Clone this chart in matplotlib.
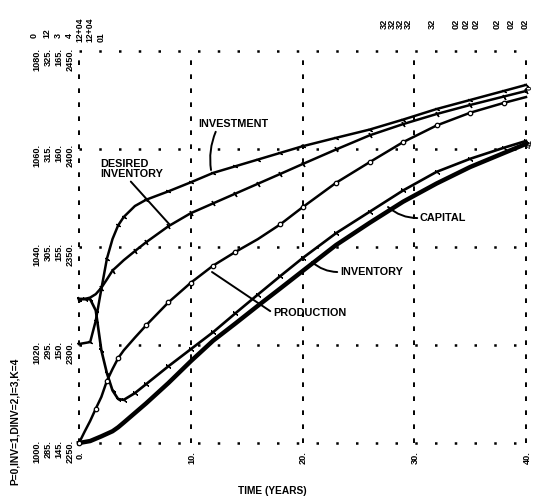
import numpy as np
import matplotlib
matplotlib.use("Agg")
import matplotlib.pyplot as plt

# ---- simulation output (years) ----
time_yr = [0, 0.5, 1, 1.5, 2, 2.5, 3, 3.5, 4, 5, 6, 8, 10, 12, 14, 16, 18, 20,
           23, 26, 29, 32, 35, 38, 40]
production = [1000.0, 1002.3, 1004.5, 1007.0, 1009.4, 1012.7, 1015.1, 1017.3,
              1018.9, 1021.5, 1024.0, 1028.7, 1032.7, 1036.2, 1039.0, 1041.6,
              1044.6, 1048.1, 1053.1, 1057.3, 1061.4, 1064.8, 1067.4, 1069.4,
              1070.6]
inventory = [299.69, 299.69, 299.67, 298.53, 294.46, 292.11, 290.36, 289.49,
             289.40, 290.09, 291.0, 292.83, 294.57, 296.31, 298.24, 300.14,
             302.02, 303.86, 306.41, 308.59, 310.77, 312.67, 314.0, 315.12,
             315.82]
desired_inventory = [299.69, 299.69, 299.84, 300.19, 300.84, 301.70, 302.60,
                     303.12, 303.65, 304.58, 305.48, 307.12, 308.45, 309.45,
                     310.45, 311.45, 312.45, 313.46, 314.95, 316.39, 317.54,
                     318.57, 319.49, 320.35, 320.92]
investment = [150.05, 150.10, 150.15, 151.24, 152.86, 154.41, 155.41, 156.10,
              156.53, 157.09, 157.41, 157.84, 158.30, 158.78, 159.12, 159.46,
              159.80, 160.14, 160.57, 160.99, 161.50, 162.04, 162.50, 162.96,
              163.27]
capital = [2250.0, 2250.5, 2251.0, 2252.2, 2253.4, 2254.7, 2256.0, 2258.0,
           2260.4, 2265.3, 2270.2, 2280.6, 2291.7, 2302.2, 2311.0, 2320.0,
           2328.8, 2337.7, 2351.0, 2362.3, 2373.1, 2382.4, 2390.8, 2397.9,
           2402.6]

# ---- plot scales (one column per variable group) ----
scale_p = [1000, 1020, 1040, 1060, 1080]       # P = 0
scale_inv = [285, 295, 305, 315, 325]          # INV = 1, DINV = 2
scale_i = [145, 150, 155, 160, 165]            # I = 3
scale_k = [2250, 2300, 2350, 2400, 2450]       # K = 4
time_ticks = [0, 10, 20, 30, 40]

W, H = 533, 500
FONT = "Liberation Sans"


def fx(x):
    return x / W


def fy(y):
    return 1 - y / H


def on_p_scale(vals, scale):
    """Map a series onto the production scale used by the axes."""
    lo, hi = scale[0], scale[-1]
    return scale_p[0] + (np.asarray(vals, float) - lo) / (hi - lo) * (scale_p[-1] - scale_p[0])


fig = plt.figure(figsize=(W / 100, H / 100), dpi=100)
ax = fig.add_axes([fx(79), fy(443), 447 / W, 392 / H])
ax.set_xlim(time_ticks[0], time_ticks[-1])
ax.set_ylim(scale_p[0], scale_p[-1])
ax.axis("off")

# dotted horizontal rulings, dashed vertical rulings
for v in scale_p:
    ax.axhline(v, color="black", lw=1.8, linestyle=(0, (1.0, 6.9)),
               dash_capstyle="butt", clip_on=False, zorder=1)
for t in time_ticks:
    ax.axvline(t, color="black", lw=1.4, linestyle=(0, (2.4, 4.8)),
               clip_on=False, zorder=1)

t = np.asarray(time_yr)
lw = 1.8
ax.plot(t, on_p_scale(capital, scale_k), color="black", lw=3.2,
        solid_joinstyle="round", clip_on=False, zorder=3)
ax.plot(t, on_p_scale(inventory, scale_inv), color="black", lw=1.9,
        marker=(2, 2, 50), ms=4.2, mew=0.8, markevery=0.011,
        solid_joinstyle="round", clip_on=False, zorder=3)
ax.plot(t, production, color="black", lw=lw, marker="o", ms=3.2, mfc="white",
        mew=0.9, markevery=0.055, solid_joinstyle="round", clip_on=False,
        zorder=3)
ax.plot(t, on_p_scale(desired_inventory, scale_inv), color="black", lw=lw,
        marker=(2, 2, 30), ms=4, mew=1.0, markevery=0.04,
        solid_joinstyle="round", clip_on=False, zorder=3)
ax.plot(t, on_p_scale(investment, scale_i), color="black", lw=lw,
        marker=(2, 2, 60), ms=3.5, mew=0.9, markevery=0.035,
        solid_joinstyle="round", clip_on=False, zorder=3)


def tpos(x, y):
    return ((x - 79) / 447 * 40, 1000 + (443 - y) / 392 * 80)


label_kw = dict(fontsize=7.8, fontweight="bold", family=FONT, color="black")
lead_kw = dict(arrowstyle="-", color="black", lw=1.4, shrinkA=0, shrinkB=0)

ax.annotate("INVESTMENT", xy=tpos(211, 170), xytext=tpos(198, 124),
            ha="left", va="center", annotation_clip=False,
            arrowprops=dict(**lead_kw, relpos=(0.27, 0.0),
                            connectionstyle="arc3,rad=0.15"), **label_kw)
ax.annotate("DESIRED\nINVENTORY", xy=tpos(170, 225), xytext=tpos(100, 169),
            ha="left", va="center", linespacing=0.95, annotation_clip=False,
            arrowprops=dict(**lead_kw, relpos=(0.45, 0.0)), **label_kw)
ax.annotate("PRODUCTION", xy=tpos(212, 272), xytext=tpos(273, 313),
            ha="left", va="center", annotation_clip=False,
            arrowprops=dict(**lead_kw, relpos=(0.0, 0.5)), **label_kw)
ax.annotate("INVENTORY", xy=tpos(312, 262), xytext=tpos(340, 272),
            ha="left", va="center", annotation_clip=False,
            arrowprops=dict(**lead_kw, relpos=(0.0, 0.5),
                            connectionstyle="arc3,rad=-0.2"), **label_kw)
ax.annotate("CAPITAL", xy=tpos(388, 207), xytext=tpos(420, 218),
            ha="left", va="center", annotation_clip=False,
            arrowprops=dict(**lead_kw, relpos=(0.0, 0.5),
                            connectionstyle="arc3,rad=-0.2"), **label_kw)

small = dict(fontweight="bold", family=FONT, color="black", rotation=90)

# scale columns on the left
cols = [(37, scale_p), (48, scale_inv), (59, scale_i), (70, scale_k)]
levels_px = [443, 344, 246, 147, 51]
for x, sc in cols:
    for ypx, val in zip(levels_px, sc):
        fig.text(fx(x), fy(ypx - 3), f"{val}.", ha="center", va="top",
                 fontsize=6.6, **small)

# symbol legend above the scale columns
for x, s in [(34, "0"), (47, "12"), (58, "3"), (69, "4")]:
    fig.text(fx(x), fy(38), s, ha="center", va="bottom", fontsize=6.4, **small)
for x, s in [(80, "12+04"), (90, "12+04"), (101, "01")]:
    fig.text(fx(x), fy(42), s, ha="center", va="bottom", fontsize=6.2, **small)

# coincident-symbol markers along the top edge
for x, s in [(384, "32"), (392, "32"), (400, "32"), (408, "32"), (432, "32"),
             (456, "02"), (466, "02"), (476, "02"), (497, "02"), (511, "02"),
             (525, "02")]:
    fig.text(fx(x), fy(24), s, ha="center", va="center", fontsize=6.6, **small)

# end-of-run symbols at the right edge
fig.text(fx(530), fy(88), "0", ha="center", va="center", fontsize=5.8, **small)
fig.text(fx(530), fy(144), "41", ha="center", va="center", fontsize=5.8, **small)

# time axis labels
for tk in time_ticks:
    xpx = 79 + tk / 40 * 447
    fig.text(fx(xpx + 1), fy(451), f"{tk}.", ha="center", va="top",
             fontsize=6.6, **small)
fig.text(fx(272), fy(491), "TIME (YEARS)", ha="center", va="center",
         fontsize=7.3, fontweight="bold", family=FONT)

fig.text(fx(15), fy(421), "P=0,INV=1,DINV=2,I=3,K=4", ha="center",
         va="center", fontsize=7.4, **small)

fig.savefig("out.png", dpi=100, facecolor="white")
